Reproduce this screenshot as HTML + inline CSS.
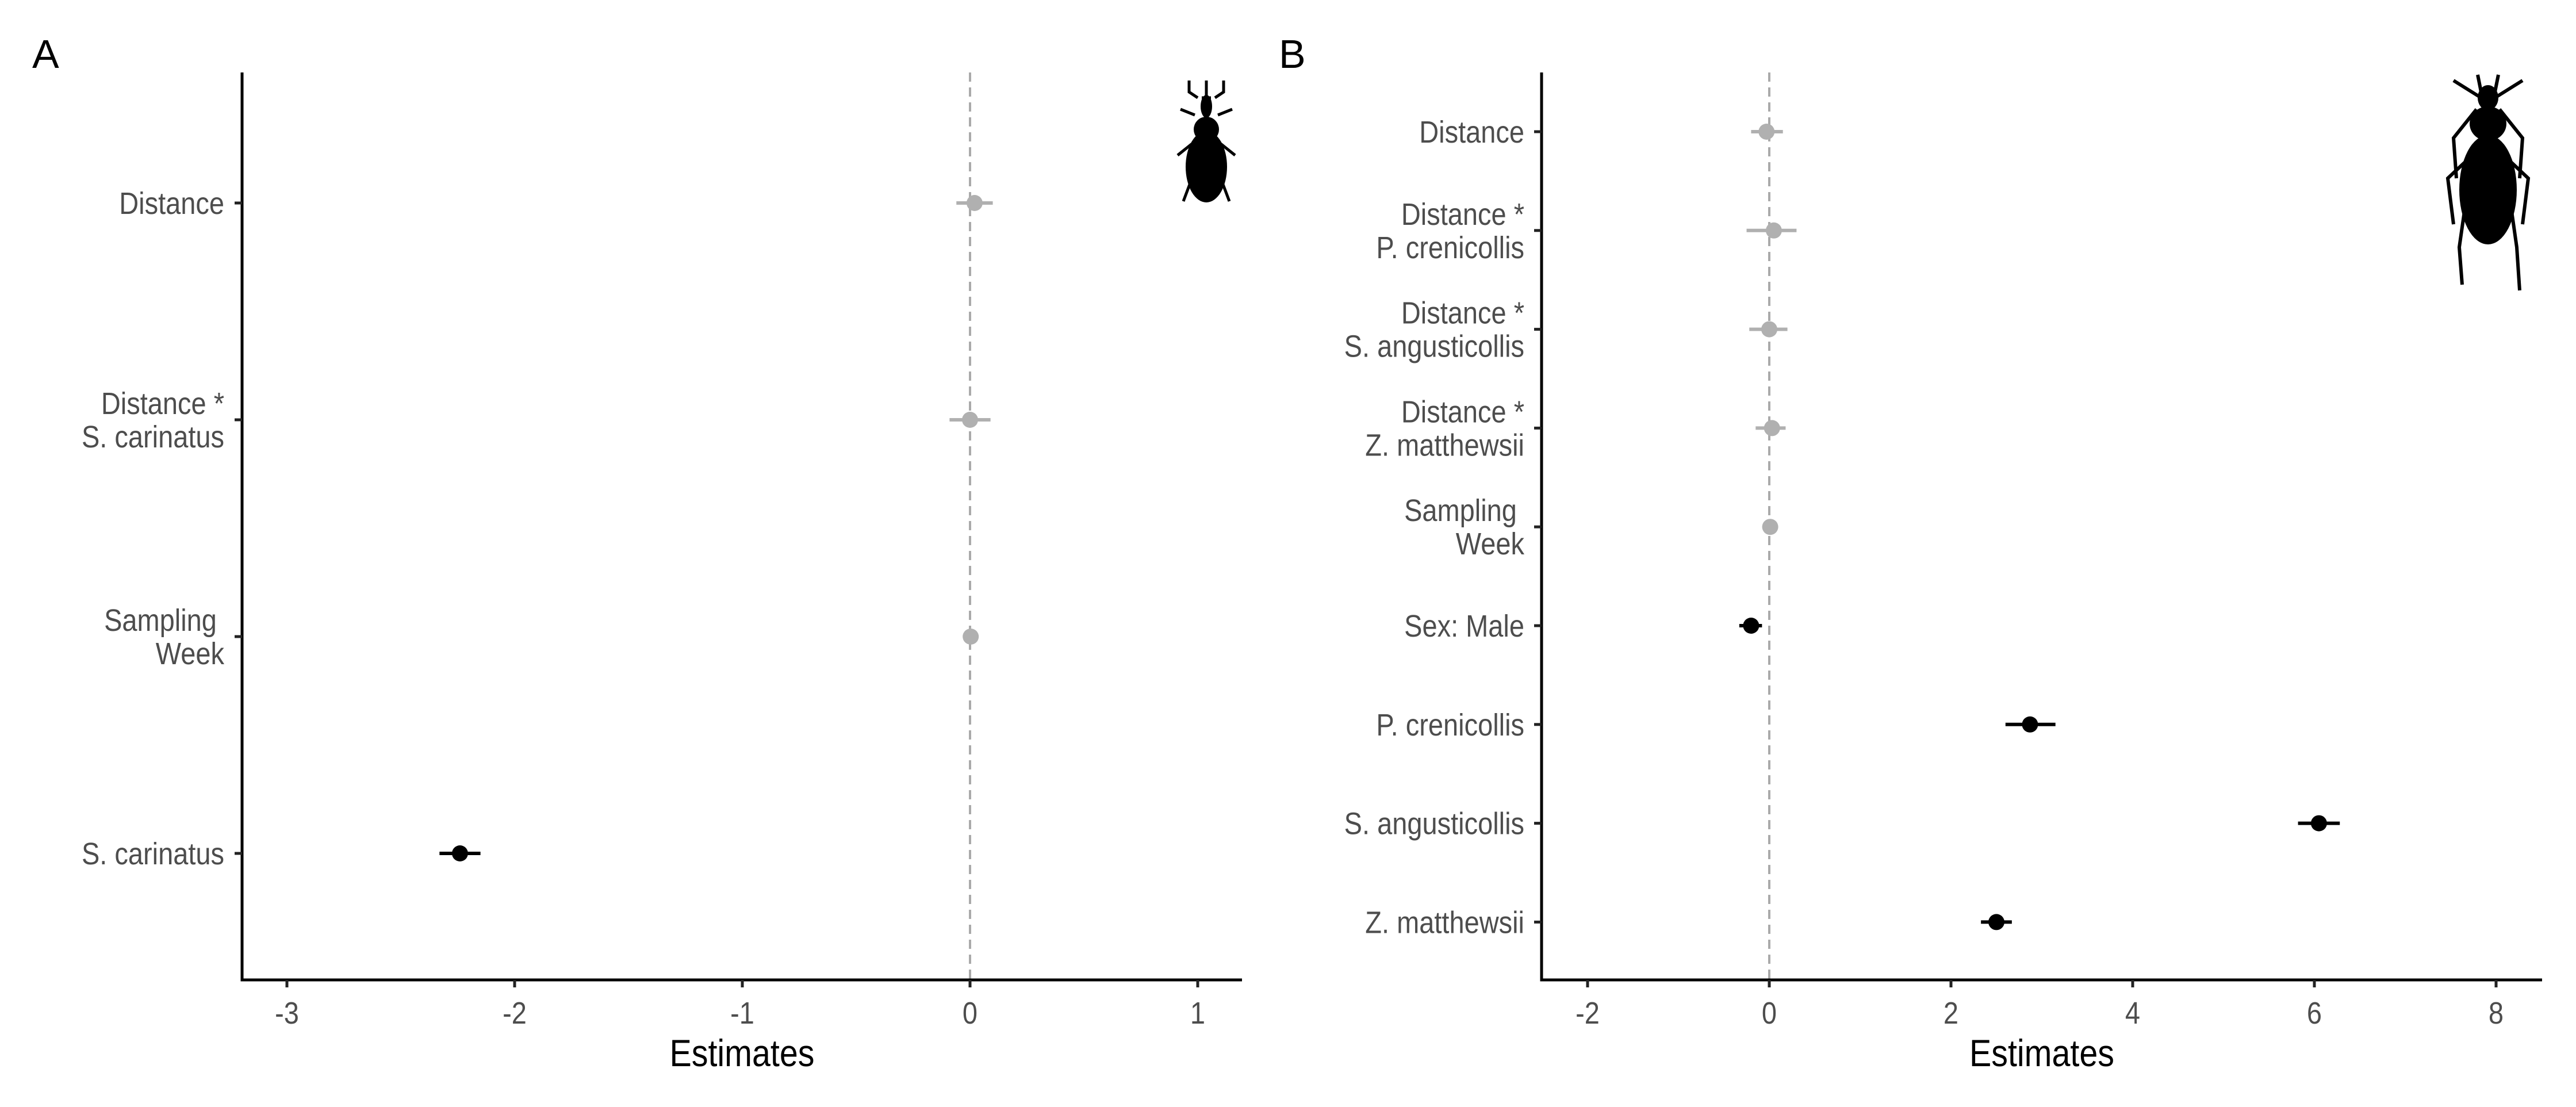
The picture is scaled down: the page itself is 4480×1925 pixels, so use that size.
<!DOCTYPE html>
<html><head><meta charset="utf-8"><style>
body{margin:0;background:#fff}
svg text{font-family:"Liberation Sans",sans-serif}
</style></head><body>
<svg id="s" width="4480" height="1920" xmlns="http://www.w3.org/2000/svg">
<rect width="4480" height="1920" fill="#fff"/>
<text x="56" y="118" font-size="70" fill="#000">A</text>
<text x="2224" y="118" font-size="70" fill="#000">B</text>
<g transform="translate(2098,130)">
<path d="M0,40 L0,10 M0,40 L-8,40 M0,40 L8,40 M-30,10 L-30,30 L-15,40 M30,10 L30,30 L15,40 M-45,60 L-20,70 M45,60 L20,70 M-50,140 L-25,120 M50,140 L25,120 M-40,220 L-25,180 M40,220 L25,180" stroke="#000" stroke-width="5" fill="none"/>
<ellipse cx="0" cy="55" rx="10" ry="20" fill="#000"/>
<ellipse cx="0" cy="95" rx="22" ry="22" fill="#000"/>
<ellipse cx="0" cy="160" rx="36" ry="62" fill="#000"/>
</g>
<g transform="translate(4327,130)">
<path d="M-18,0 L-12,30 M18,0 L12,30 M-12,40 L-60,10 M12,40 L60,10 M-20,60 L-60,110 L-55,180 M20,60 L60,110 L55,180 M-38,150 L-70,180 L-60,260 M38,150 L70,180 L60,260 M-40,230 L-50,300 L-45,365 M40,230 L50,300 L55,375" stroke="#000" stroke-width="6" fill="none"/>
<ellipse cx="0" cy="40" rx="18" ry="22" fill="#000"/>
<ellipse cx="0" cy="85" rx="32" ry="30" fill="#000"/>
<ellipse cx="0" cy="200" rx="50" ry="95" fill="#000"/>
</g>
</svg>
<script>
const NS="http://www.w3.org/2000/svg";
const svg=document.getElementById('s');
const aLabels=[["Distance"],["Distance *","S. carinatus"],["Sampling ","Week"],["S. carinatus"]];
const aEst=[0.02,0.0,0.003,-2.24];
const aLo=[-0.06,-0.09,-0.01,-2.33];
const aHi=[0.1,0.09,0.015,-2.15];
const aSig=[false,false,false,true];
const aTicks=[-3,-2,-1,0,1];
const bLabels=[["Distance"],["Distance *","P. crenicollis"],["Distance *","S. angusticollis"],["Distance *","Z. matthewsii"],["Sampling ","Week"],["Sex: Male"],["P. crenicollis"],["S. angusticollis"],["Z. matthewsii"]];
const bEst=[-0.03,0.05,0.0,0.03,0.01,-0.2,2.87,6.05,2.5];
const bLo=[-0.2,-0.25,-0.22,-0.15,-0.03,-0.33,2.6,5.82,2.33];
const bHi=[0.15,0.3,0.2,0.18,0.05,-0.08,3.15,6.28,2.67];
const bSig=[false,false,false,false,false,true,true,true,true];
const bTicks=[-2,0,2,4,6,8];
const SX=0.87;
function mk(tag,attrs,parent){const e=document.createElementNS(NS,tag);for(const k in attrs)e.setAttribute(k,attrs[k]);(parent||svg).appendChild(e);return e;}
function panel(p){
  const g=mk('g',{});
  
  
  const X=v=>p.x0+(v-p.v0)*p.ppu;
  const Y=i=>p.y0+i*p.dy;
  const z=mk('line',{x1:X(0),x2:X(0),y1:126,y2:1704,stroke:'#aaa','stroke-width':4,'stroke-dasharray':'16 10'},g);
  
  
  const ax=mk('path',{d:`M${p.ax},126 L${p.ax},1704 L${p.axr},1704`,stroke:'#000','stroke-width':5,fill:'none'},g);
  
  
  p.ticks.forEach(t=>{
    mk('line',{x1:X(t),x2:X(t),y1:1704,y2:1717,stroke:'#222','stroke-width':5},g);
    const tx=mk('text',{x:0,y:0,'font-size':54,fill:'#4d4d4d','text-anchor':'middle',transform:`translate(${X(t)},1780) scale(${SX},1)`},g);
    tx.textContent=(t<0?'-'+Math.abs(t):String(t));
    
    
  });
  p.labels.forEach((lab,i)=>{
    const y=Y(i);
    mk('line',{x1:p.ax-13,x2:p.ax,y1:y,y2:y,stroke:'#222','stroke-width':5},g);
    const tx=mk('text',{x:0,y:0,'font-size':54,fill:'#4d4d4d','text-anchor':'end',transform:`translate(${p.lx},0) scale(${SX},1)`},g);
    
    
    const n=lab.length;
    lab.forEach((s,j)=>{const ts=mk('tspan',{x:0,y:y+19+(j-(n-1)/2)*58},tx);ts.textContent=s;});
    const col=p.sig[i]?'#000':'#b0b0b0';
    const eb=mk('line',{x1:X(p.lo[i]),x2:X(p.hi[i]),y1:y,y2:y,stroke:col,'stroke-width':6},g);
    
    
    const c=mk('circle',{cx:X(p.est[i]),cy:y,r:14,fill:col},g);
    
    
  });
  const t=mk('text',{x:0,y:0,'font-size':66,fill:'#000','text-anchor':'middle',transform:`translate(${(p.ax+p.axr)/2},1854) scale(${SX},1)`},g);
  t.textContent='Estimates';
  
  
}
panel({name:'panel-a',labels:aLabels,est:aEst,lo:aLo,hi:aHi,sig:aSig,ticks:aTicks,x0:1687,v0:0,ppu:396,y0:353,dy:377,ax:421,axr:2160,lx:390});
panel({name:'panel-b',labels:bLabels,est:bEst,lo:bLo,hi:bHi,sig:bSig,ticks:bTicks,x0:3077,v0:0,ppu:158,y0:229,dy:171.8,ax:2681,axr:4421,lx:2651});
</script>
</body></html>
